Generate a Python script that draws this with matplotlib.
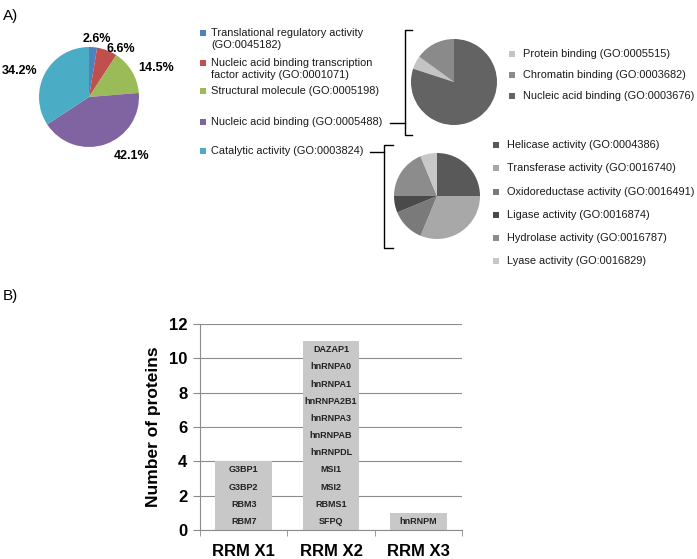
import matplotlib
matplotlib.use('Agg')
import matplotlib.pyplot as plt
from matplotlib.patches import Rectangle

plt.rcParams['font.family'] = ['Liberation Sans', 'DejaVu Sans']

# Panel A - main GO pie
main_labels = ['Translational regulatory activity\n(GO:0045182)',
               'Nucleic acid binding transcription\nfactor activity (GO:0001071)',
               'Structural molecule (GO:0005198)',
               'Nucleic acid binding (GO:0005488)',
               'Catalytic activity (GO:0003824)']
main_pct = [2.6, 6.6, 14.5, 42.1, 34.2]
main_colors = ['#4F81BD', '#C0504D', '#9BBB59', '#8064A2', '#4BACC6']

# Nucleic acid binding breakdown
nab_labels = ['Protein binding (GO:0005515)', 'Chromatin binding (GO:0003682)',
              'Nucleic acid binding (GO:0003676)']
nab_counts = [1, 3, 16]
nab_colors = ['#C4C4C4', '#8A8A8A', '#636363']

# Catalytic activity breakdown
cat_labels = ['Helicase activity (GO:0004386)', 'Transferase activity (GO:0016740)',
              'Oxidoreductase activity (GO:0016491)', 'Ligase activity (GO:0016874)',
              'Hydrolase activity (GO:0016787)', 'Lyase activity (GO:0016829)']
cat_counts = [4, 5, 2, 1, 3, 1]
cat_colors = ['#595959', '#A8A8A8', '#7A7A7A', '#4A4A4A', '#8C8C8C', '#C8C8C8']

# Panel B - RRM groups
groups = ['RRM X1', 'RRM X2', 'RRM X3']
proteins = [['RBM7', 'RBM3', 'G3BP2', 'G3BP1'],
            ['SFPQ', 'RBMS1', 'MSI2', 'MSI1', 'hnRNPDL', 'hnRNPAB', 'hnRNPA3',
             'hnRNPA2B1', 'hnRNPA1', 'hnRNPA0', 'DAZAP1'],
            ['hnRNPM']]
counts = [len(p) for p in proteins]

W, H = 697, 559
fig = plt.figure(figsize=(W / 100, H / 100), dpi=100)


def px_axes(cx, cy, r):
    # square axes centred on a pixel position
    return fig.add_axes([(cx - r) / W, 1 - (cy + r) / H, 2 * r / W, 2 * r / H])


# main pie
ax1 = px_axes(89, 97, 50)
ax1.pie(main_pct, colors=main_colors, startangle=90, counterclock=False,
        radius=1, wedgeprops=dict(linewidth=0))
ax1.set_xlim(-1, 1)
ax1.set_ylim(-1, 1)
label_pos = [(0.16, 1.17), (0.64, 0.97), (1.34, 0.58), (0.86, -1.18), (-1.38, 0.52)]
for v, (x, y) in zip(main_pct, label_pos):
    ax1.text(x, y, f'{v}%', ha='center', va='center', fontsize=9, fontweight='bold',
             clip_on=False)

# nucleic acid binding pie
ax2 = px_axes(454, 82, 43)
ax2.pie(nab_counts, colors=nab_colors, startangle=90 + 360 * 4 / 20,
        counterclock=False, wedgeprops=dict(linewidth=0))
ax2.set_xlim(-1, 1)
ax2.set_ylim(-1, 1)

# catalytic pie
ax3 = px_axes(437, 196, 43)
ax3.pie(cat_counts, colors=cat_colors, startangle=90, counterclock=False,
        wedgeprops=dict(linewidth=0))
ax3.set_xlim(-1, 1)
ax3.set_ylim(-1, 1)

# overlay in pixel coordinates for legends and brackets
ov = fig.add_axes([0, 0, 1, 1], zorder=5)
ov.set_xlim(0, W)
ov.set_ylim(H, 0)
ov.axis('off')
ov.patch.set_alpha(0)

ov.text(3, 16, 'A)', fontsize=11, va='center', ha='left')
ov.text(3, 296, 'B)', fontsize=11, va='center', ha='left')

txt_col = '#1a1a1a'
main_y = [39, 69, 91, 122, 151]
for lab, c, y in zip(main_labels, main_colors, main_y):
    first_y = y - 6 if '\n' in lab else y
    ov.add_patch(Rectangle((200, first_y - 3), 6, 6, color=c, lw=0))
    ov.text(211, y, lab, fontsize=7.9, va='center', ha='left', color=txt_col,
            linespacing=1.25)

nab_y = [54, 75, 96]
for lab, c, y in zip(nab_labels, nab_colors, nab_y):
    ov.add_patch(Rectangle((509, y - 3), 6, 6, color=c, lw=0))
    ov.text(523, y, lab, fontsize=7.9, va='center', ha='left', color=txt_col)

cat_y = [145, 168, 192, 215, 238, 261]
for lab, c, y in zip(cat_labels, cat_colors, cat_y):
    ov.add_patch(Rectangle((493, y - 3), 6, 6, color=c, lw=0))
    ov.text(507, y, lab, fontsize=7.9, va='center', ha='left', color=txt_col)

# brackets
ov.plot([390, 405], [123, 123], color='black', lw=1)
ov.plot([412, 405, 405, 412], [30, 30, 135, 135], color='black', lw=1)
ov.plot([370, 384], [152, 152], color='black', lw=1)
ov.plot([393, 384, 384, 393], [145, 145, 248, 248], color='black', lw=1)

# Panel B bar chart
axb = fig.add_axes([200 / W, 1 - 530 / H, 262 / W, 206 / H])
xs = range(len(groups))
axb.bar(xs, counts, width=0.65, color='#C8C8C8', zorder=2)
for x, plist in zip(xs, proteins):
    for i, name in enumerate(plist):
        axb.text(x, i + 0.5, name, ha='center', va='center', fontsize=6.5,
                 fontweight='bold', color='#222222', zorder=3)
axb.set_xlim(-0.5, 2.5)
axb.set_ylim(0, 12)
axb.set_yticks(range(0, 13, 2))
axb.yaxis.grid(True, color='#8C8C8C', lw=0.8, zorder=0)
axb.set_axisbelow(True)
axb.set_xticks(list(xs))
axb.set_xticklabels(groups, fontsize=12, fontweight='bold')
axb.tick_params(axis='x', length=0, pad=10)
axb.set_xticks([-0.5, 0.5, 1.5, 2.5], minor=True)
axb.tick_params(axis='x', which='minor', length=4, color='#8C8C8C', direction='out')
axb.tick_params(axis='y', length=5, color='#8C8C8C', labelsize=12, pad=4)
for t in axb.get_yticklabels():
    t.set_fontweight('bold')
axb.set_ylabel('Number of proteins', fontsize=12.5, fontweight='bold', labelpad=6)
for s in ['top', 'right']:
    axb.spines[s].set_visible(False)
for s in ['left', 'bottom']:
    axb.spines[s].set_color('#8C8C8C')

fig.savefig('out.png', dpi=100)
